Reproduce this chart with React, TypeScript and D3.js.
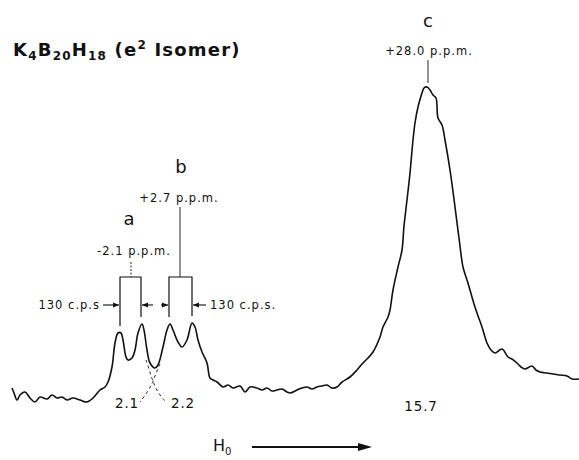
import React from 'react'
import * as d3 from 'd3'

// spectrum trace, field position (arb.) vs intensity (arb.)
const fieldPos = [12, 14, 17, 20, 25, 30, 35, 40, 47, 52, 57, 62, 67, 73, 80, 87, 93, 100, 105, 108, 112, 115, 118, 121, 123, 126, 128, 132, 135, 138, 142, 144, 147, 150, 155, 158, 163, 167, 170, 173, 178, 182, 187, 192, 195, 198, 202, 207, 210, 213, 217, 223, 228, 233, 240, 245, 250, 257, 262, 267, 272, 277, 282, 287, 290, 297, 302, 307, 312, 317, 322, 327, 332, 337, 342, 350, 357, 363, 368, 373, 380, 383, 388, 390, 393, 398, 402, 404, 407, 410, 413, 415, 418, 422, 424, 427, 430, 433, 436, 438, 442, 445, 450, 455, 459, 463, 467, 470, 474, 477, 482, 487, 491, 495, 502, 508, 512, 517, 521, 525, 532, 536, 540, 547, 553, 560, 567, 572, 579]
const intensity = [14, 9, 2, 7, 10, 4, 0, 5, 3, 7, 4, 5, 2, 4, 2, 0, 4, 12, 15, 20, 35, 59, 69, 69, 62, 45, 42, 44, 52, 69, 78, 72, 52, 39, 34, 37, 55, 72, 78, 72, 60, 55, 62, 79, 75, 62, 50, 39, 24, 22, 20, 15, 17, 14, 16, 10, 15, 14, 12, 14, 11, 12, 13, 10, 9, 12, 14, 15, 13, 15, 16, 17, 14, 15, 20, 25, 32, 39, 44, 50, 65, 75, 85, 92, 112, 135, 152, 176, 202, 229, 262, 279, 295, 309, 314, 315, 312, 307, 304, 284, 277, 262, 232, 195, 164, 135, 122, 112, 98, 89, 75, 59, 52, 49, 53, 45, 43, 39, 35, 33, 36, 32, 30, 29, 28, 27, 26, 23, 23]

// dashed deconvolution tails of the two doublets
const tailA = [[146, 42], [150, 30], [153, 20], [158, 9], [165, 1]]
const tailB = [[160, 38], [156, 29], [153, 20], [147, 9], [140, 0]]

// peak assignments
const peakLabels = ['a', 'b', 'c']
const shiftLabels = ['-2.1 p.p.m.', '+2.7 p.p.m.', '+28.0 p.p.m.']
const areaLabels = ['2.1', '2.2', '15.7']
const splitLabel = '130 c.p.s'

const W = 579
const H = 460

export default function App() {
  const x = d3.scaleLinear().domain([0, 579]).range([0, 579])
  const y = d3.scaleLinear().domain([0, 320]).range([402, 82])

  const pts: [number, number][] = fieldPos.map((f, i) => [f, intensity[i]])
  const line = d3.line<[number, number]>()
    .x(d => x(d[0]))
    .y(d => y(d[1]))
    .curve(d3.curveCatmullRom.alpha(0.5))

  const tail = d3.line<number[]>().x(d => x(d[0])).y(d => y(d[1])).curve(d3.curveBasis)

  const font = '"DejaVu Sans", sans-serif'
  const thin = { stroke: '#111', strokeWidth: 0.9, fill: 'none' }
  const arrowY = 305

  // bracket legs for doublets a and b
  const brackets = [
    { l: 120, r: 141, top: 277, lb: 326, rb: 317, stem: 131, stemTop: 262, dotted: true },
    { l: 169, r: 192, top: 277, lb: 317, rb: 316, stem: 180, stemTop: 207, dotted: false },
  ]

  const arrow = (x1: number, x2: number, key: string) => {
    const dir = x2 > x1 ? 1 : -1
    return (
      <g key={key}>
        <line x1={x1} y1={arrowY} x2={x2} y2={arrowY} {...thin} strokeWidth={1.1} />
        <path d={`M${x2},${arrowY} L${x2 - dir * 6},${arrowY - 2.6} L${x2 - dir * 6},${arrowY + 2.6} Z`} fill="#111" />
      </g>
    )
  }

  const small = { fontFamily: font, fontSize: 11.5, fill: '#111', letterSpacing: 1 }

  return (
    <svg width={W} height={H} style={{ position: 'absolute', left: 0, top: 0, background: '#fff' }}>
      <text x={13} y={56} fontFamily={font} fontWeight="bold" fontSize={18} letterSpacing={1.2} fill="#111">
        K<tspan fontSize={12} dy={4}>4</tspan>
        <tspan dy={-4}>B</tspan><tspan fontSize={12} dy={4}>20</tspan>
        <tspan dy={-4}>H</tspan><tspan fontSize={12} dy={4}>18</tspan>
        <tspan dy={-4}>{'  (e'}</tspan><tspan fontSize={12} dy={-7}>2</tspan>
        <tspan dy={7}>{' Isomer)'}</tspan>
      </text>

      <path d={line(pts) || ''} stroke="#111" strokeWidth={1.6} fill="none" strokeLinejoin="round" />
      <path d={tail(tailA) || ''} stroke="#111" strokeWidth={0.9} fill="none" strokeDasharray="3,3" />
      <path d={tail(tailB) || ''} stroke="#111" strokeWidth={0.9} fill="none" strokeDasharray="3,3" />

      {brackets.map((b, i) => (
        <g key={i}>
          <line x1={b.stem} y1={b.stemTop} x2={b.stem} y2={b.top} {...thin} strokeDasharray={b.dotted ? '2,1.5' : undefined} />
          <polyline points={`${b.l},${b.lb} ${b.l},${b.top} ${b.r},${b.top} ${b.r},${b.rb}`} {...thin} strokeWidth={1.2} />
        </g>
      ))}
      <line x1={428} y1={60} x2={428} y2={83} {...thin} />

      {arrow(103, 119, 'a1')}
      {arrow(153, 142, 'a2')}
      {arrow(161, 168, 'b1')}
      {arrow(206, 193, 'b2')}
      <text x={100} y={309} textAnchor="end" {...small}>{splitLabel}</text>
      <text x={210} y={309} {...small}>{splitLabel + '.'}</text>

      <text x={129} y={225} textAnchor="middle" fontFamily={font} fontSize={18} fill="#111">{peakLabels[0]}</text>
      <text x={181} y={173} textAnchor="middle" fontFamily={font} fontSize={18} fill="#111">{peakLabels[1]}</text>
      <text x={428} y={27} textAnchor="middle" fontFamily={font} fontSize={18} fill="#111">{peakLabels[2]}</text>

      <text x={134} y={255} textAnchor="middle" {...small}>{shiftLabels[0]}</text>
      <text x={179} y={202} textAnchor="middle" {...small}>{shiftLabels[1]}</text>
      <text x={429} y={55} textAnchor="middle" {...small}>{shiftLabels[2]}</text>

      <text x={127} y={408} textAnchor="middle" fontFamily={font} fontSize={13.5} letterSpacing={0.8} fill="#111">{areaLabels[0]}</text>
      <text x={183} y={408} textAnchor="middle" fontFamily={font} fontSize={13.5} letterSpacing={0.8} fill="#111">{areaLabels[1]}</text>
      <text x={421} y={411} textAnchor="middle" fontFamily={font} fontSize={13.5} letterSpacing={0.8} fill="#111">{areaLabels[2]}</text>

      <text x={213} y={451} fontFamily={font} fontSize={16} fill="#111">
        H<tspan fontSize={10} dy={4}>0</tspan>
      </text>
      <line x1={252} y1={447} x2={362} y2={447} stroke="#111" strokeWidth={2} />
      <path d="M372,447 L358,443 L358,451 Z" fill="#111" />
    </svg>
  )
}
